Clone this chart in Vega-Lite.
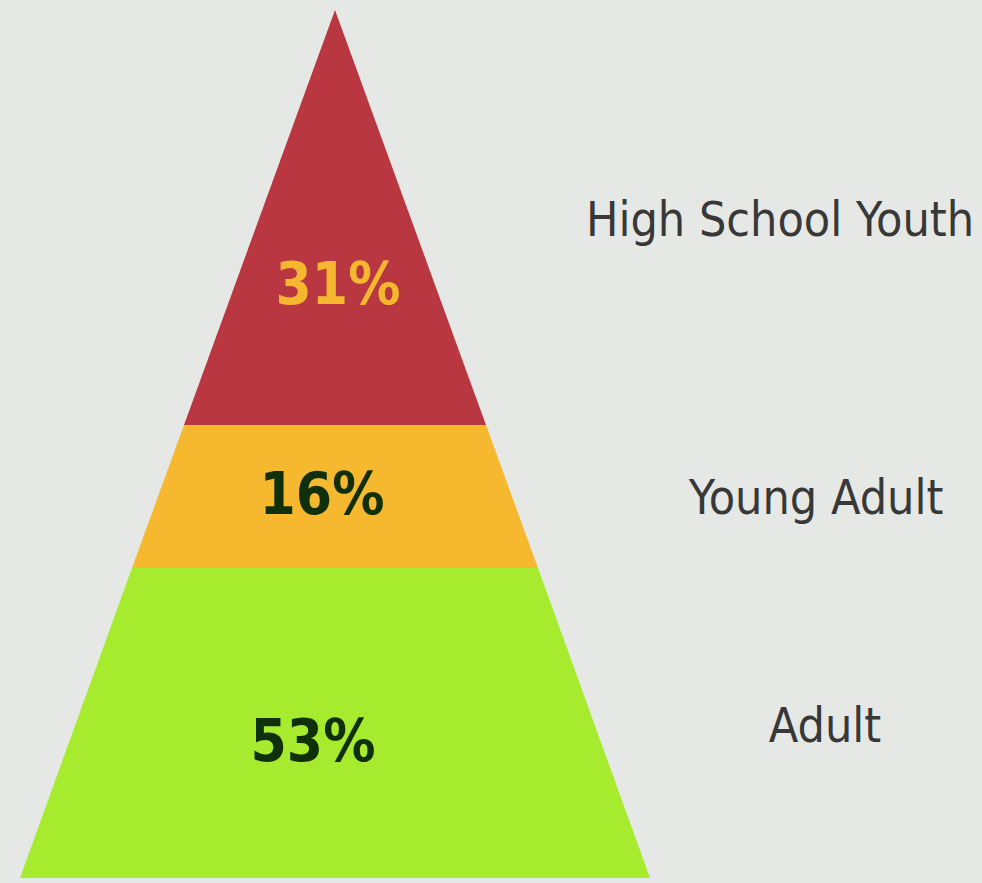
{
  "$schema": "https://vega.github.io/schema/vega-lite/v6.json",
  "width": 982,
  "height": 883,
  "autosize": "none",
  "padding": 0,
  "background": "#e6e8e6",
  "config": {"view": {"stroke": null}},
  "datasets": {
    "shape": [
      {"segment": "High School Youth", "level": 868, "left": 0, "right": 0},
      {"segment": "High School Youth", "level": 453, "left": -151, "right": 151},
      {"segment": "Young Adult", "level": 453, "left": -151, "right": 151},
      {"segment": "Young Adult", "level": 310, "left": -203, "right": 203},
      {"segment": "Adult", "level": 310, "left": -203, "right": 203},
      {"segment": "Adult", "level": 0, "left": -315, "right": 315}
    ],
    "segments": [
      {"segment": "High School Youth", "share": "31%", "shareLevel": 591, "shareX": 3, "labelLevel": 656, "labelX": 445},
      {"segment": "Young Adult", "share": "16%", "shareLevel": 381, "shareX": -13, "labelLevel": 378, "labelX": 481},
      {"segment": "Adult", "share": "53%", "shareLevel": 134, "shareX": -22, "labelLevel": 150, "labelX": 490}
    ]
  },
  "layer": [
    {
      "data": {"name": "shape"},
      "mark": {"type": "area", "orient": "horizontal"},
      "encoding": {
        "y": {"field": "level", "type": "quantitative", "scale": {"domain": [-5, 878], "nice": false, "zero": false}, "axis": null},
        "x": {"field": "left", "type": "quantitative", "scale": {"domain": [-335, 647], "nice": false, "zero": false}, "axis": null},
        "x2": {"field": "right"},
        "color": {"field": "segment", "type": "nominal", "scale": {"domain": ["High School Youth", "Young Adult", "Adult"], "range": ["#b93741", "#f5b82e", "#a6eb2e"]}, "legend": null}
      }
    },
    {
      "data": {"name": "segments"},
      "mark": {"type": "text", "font": "DejaVu Sans Condensed", "fontWeight": "bold", "fontSize": 58, "align": "center", "baseline": "middle"},
      "encoding": {
        "y": {"field": "shareLevel", "type": "quantitative", "scale": {"domain": [-5, 878], "nice": false, "zero": false}, "axis": null},
        "x": {"field": "shareX", "type": "quantitative", "scale": {"domain": [-335, 647], "nice": false, "zero": false}, "axis": null},
        "text": {"field": "share"},
        "color": {"field": "segment", "type": "nominal", "scale": {"domain": ["High School Youth", "Young Adult", "Adult"], "range": ["#f4b72f", "#10300b", "#10300b"]}, "legend": null}
      }
    },
    {
      "data": {"name": "segments"},
      "mark": {"type": "text", "font": "DejaVu Sans Condensed", "fontSize": 48, "align": "center", "baseline": "middle", "color": "#383838"},
      "encoding": {
        "y": {"field": "labelLevel", "type": "quantitative", "scale": {"domain": [-5, 878], "nice": false, "zero": false}, "axis": null},
        "x": {"field": "labelX", "type": "quantitative", "scale": {"domain": [-335, 647], "nice": false, "zero": false}, "axis": null},
        "text": {"field": "segment"}
      }
    }
  ],
  "resolve": {"scale": {"color": "independent"}}
}
